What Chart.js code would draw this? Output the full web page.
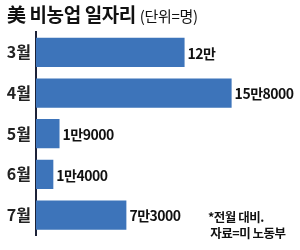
<!DOCTYPE html>
<html>
<head>
<meta charset="utf-8">
<script src="https://cdn.jsdelivr.net/npm/chart.js@4"></script>
<style>
  body { margin: 0; background: #fff; font-family: "Noto Sans CJK KR", sans-serif; }
  #wrap { position: relative; width: 300px; height: 250px; }
  #title { position: absolute; left: 7px; top: 0px; font-size: 19px; font-weight: bold; color: #111; white-space: nowrap; letter-spacing: -0.4px; }
  #title span { font-size: 15px; font-weight: normal; letter-spacing: -0.3px; }
  #note { position: absolute; left: 208px; top: 209px; font-size: 12.5px; line-height: 16px; color: #111; font-weight: bold; letter-spacing: -0.5px; }
</style>
</head>
<body>
<div id="wrap">
  <canvas id="jobsChart" width="300" height="250"></canvas>
  <div id="title">美 비농업 일자리 <span>(단위=명)</span></div>
  <div id="note">*전월 대비.<br>&nbsp;자료=미 노동부</div>
</div>
<script>
const months = ['3월', '4월', '5월', '6월', '7월'];
const jobs = [120000, 158000, 19000, 14000, 73000];

// 12만, 15만8000 ...
const fmt = v => {
  const man = Math.floor(v / 10000), rest = v % 10000;
  return man + '만' + (rest ? rest : '');
};

const valueLabels = {
  id: 'valueLabels',
  afterDatasetsDraw(chart) {
    const ctx = chart.ctx;
    const meta = chart.getDatasetMeta(0);
    ctx.save();
    ctx.font = 'bold 14px "Noto Sans CJK KR"';
    ctx.letterSpacing = '-0.5px';
    ctx.fillStyle = '#111';
    ctx.textBaseline = 'middle';
    meta.data.forEach((bar, i) => {
      ctx.fillText(fmt(jobs[i]), bar.x + 3, bar.y + 1);
    });
    ctx.restore();
  }
};

new Chart(document.getElementById('jobsChart'), {
  type: 'bar',
  data: {
    labels: months,
    datasets: [{
      data: jobs,
      backgroundColor: '#3d74ba',
      borderWidth: 0,
      categoryPercentage: 1,
      barPercentage: 0.72
    }]
  },
  options: {
    indexAxis: 'y',
    responsive: false,
    animation: false,
    layout: { padding: { top: 32, bottom: 4, right: 4, left: 0 } },
    scales: {
      x: { display: false, min: 0, max: 210000 },
      y: {
        afterFit: s => { s.width = 36; },
        grid: { display: false, drawTicks: false },
        border: { display: true, color: '#1c2238', width: 2 },
        ticks: {
          padding: 5,
          color: '#222',
          font: { family: '"Noto Sans CJK KR"', size: 16, weight: 'bold' }
        }
      }
    },
    plugins: {
      legend: { display: false },
      tooltip: { enabled: false }
    }
  },
  plugins: [valueLabels]
});
</script>
</body>
</html>
